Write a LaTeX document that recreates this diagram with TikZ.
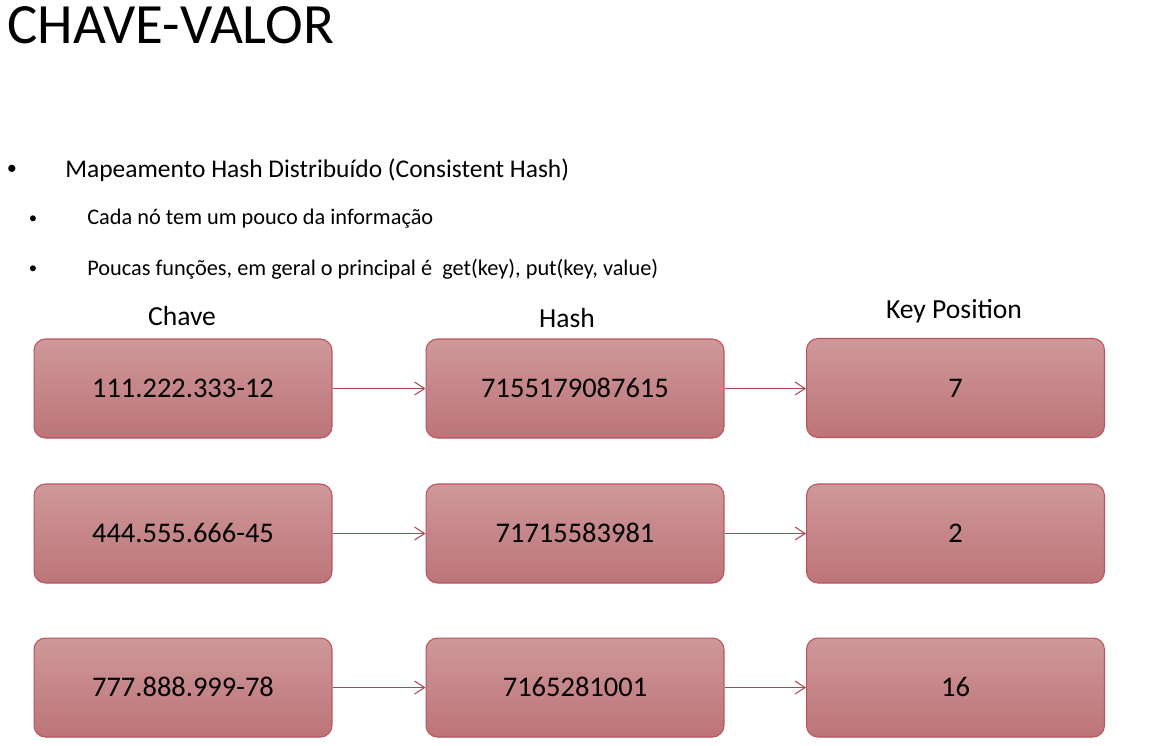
\documentclass[tikz,border=0pt]{standalone}
\usepackage{fontspec}
\setmainfont{Carlito}
\usepackage{xcolor}
\usepackage{tikz}
\usetikzlibrary{arrows.meta}

\definecolor{boxtop}{RGB}{207,152,154}
\definecolor{boxbot}{RGB}{189,116,120}
\definecolor{boxline}{RGB}{184,84,94}
\definecolor{arrowred}{RGB}{172,72,84}

\begin{document}
\begin{tikzpicture}[x=0.02cm,y=-0.02cm,
		chave/.style={draw=boxline,line width=0.6pt,rounded corners=6.5pt,
			top color=boxtop,bottom color=boxbot,minimum width=5.96cm,
			minimum height=1.98cm,inner sep=0pt,text height=10.4pt,text depth=0pt,
			font=\fontsize{16.2}{18}\selectfont},
		seta/.style={draw=arrowred,line width=0.6pt,-{Straight Barb[length=2mm,width=2.6mm]}},
		titulo/.style={font=\fontsize{15.7}{18}\selectfont},
		item/.style={anchor=west,inner sep=0pt},
		marca/.style={inner sep=0pt}]
		\useasboundingbox (0,0) rectangle (1152,745);
		% titulo e texto
		\node[anchor=west,inner sep=0pt,font=\fontsize{32.4}{36}\selectfont] (cabecalho) at (7,25) {CHAVE-VALOR};
		\node[marca,font=\fontsize{11.5}{13}\selectfont] (b1) at (12,170) {\textbullet};
		\node[item,font=\fontsize{14.5}{17}\selectfont] (t1) at (65,170) {Mapeamento Hash Distribuído (Consistent Hash)};
		\node[marca,font=\fontsize{9.5}{11}\selectfont] (b2) at (33,220) {\textbullet};
		\node[item,font=\fontsize{12.7}{15}\selectfont] (t2) at (87,219) {Cada nó tem um pouco da informação};
		\node[marca,font=\fontsize{9.5}{11}\selectfont] (b3) at (33,270) {\textbullet};
		\node[item,font=\fontsize{12.7}{15}\selectfont] (t3) at (87,269) {Poucas funções, em geral o principal é\ \ get(key), put(key, value)};
		% colunas
		\node[titulo] (hchave) at (182,316) {Chave};
		\node[titulo] (hhash) at (567,318) {Hash};
		\node[titulo] (hpos) at (954,311) {Key Position};
		% linha 1
		\node[chave] (c1) at (183,388.5) {111.222.333-12};
		\node[chave] (h1) at (575,388.5) {7155179087615};
		\node[chave] (p1) at (955.5,388) {7};
		% linha 2
		\node[chave] (c2) at (183,533.5) {444.555.666-45};
		\node[chave] (h2) at (575,533.5) {71715583981};
		\node[chave] (p2) at (955.5,533.5) {2};
		% linha 3
		\node[chave] (c3) at (183,687.5) {777.888.999-78};
		\node[chave] (h3) at (575,687.5) {7165281001};
		\node[chave] (p3) at (955.5,687.5) {16};
		% setas
		\draw[seta] (c1) -- (h1);
		\draw[seta] (h1.east) -- (p1.west |- h1.east);
		\draw[seta] (c2) -- (h2);
		\draw[seta] (h2) -- (p2);
		\draw[seta] (c3) -- (h3);
		\draw[seta] (h3) -- (p3);
	\end{tikzpicture}
\end{document}
